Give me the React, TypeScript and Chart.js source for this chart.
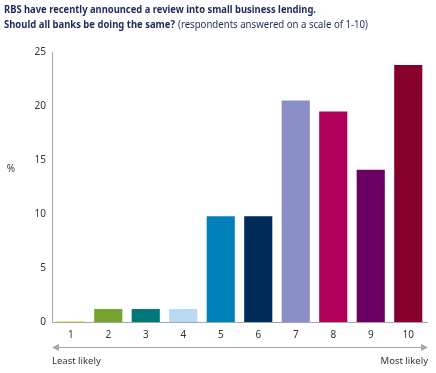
import React, { useEffect, useRef } from "react";
import { Chart, registerables } from "chart.js";

Chart.register(...registerables);

const categories = ["1", "2", "3", "4", "5", "6", "7", "8", "9", "10"];
const values = [0.1, 1.2, 1.2, 1.2, 9.8, 9.8, 20.5, 19.5, 14.1, 23.8];
const barColors = [
  "#e3e98a",
  "#76a22e",
  "#00787a",
  "#b9d9f2",
  "#0080b9",
  "#002c5a",
  "#8a8fc7",
  "#b0005a",
  "#6b0062",
  "#86002c",
];
const yTicks = [0, 5, 10, 15, 20, 25];
const titleLine1 = "RBS have recently announced a review into small business lending.";
const titleLine2Bold = "Should all banks be doing the same?";
const titleLine2Rest = "(respondents answered on a scale of 1-10)";
const yAxisLabel = "%";
const leftNote = "Least likely";
const rightNote = "Most likely";

const FONT = "'Noto Sans', 'DejaVu Sans', sans-serif";

const overlayPlugin = {
  id: "overlay",
  afterDraw(chart: any) {
    const ctx = chart.ctx;
    const area = chart.chartArea;
    ctx.save();
    // Title
    ctx.fillStyle = "#1e2a5a";
    ctx.textBaseline = "alphabetic";
    ctx.textAlign = "left";
    ctx.font = `bold 11px ${FONT}`;
    ctx.fillText(titleLine1, 4, 13, 312);
    ctx.fillText(titleLine2Bold, 4, 28, 171);
    ctx.font = `10.5px ${FONT}`;
    ctx.fillText(titleLine2Rest, 178, 28, 190);

    // Y axis label
    ctx.fillStyle = "#333333";
    ctx.font = `10px ${FONT}`;
    ctx.textAlign = "center";
    ctx.textBaseline = "middle";
    ctx.fillText(yAxisLabel, 11, 169);

    // Arrow line
    const y = 347;
    const x0 = area.left;
    const x1 = area.right + 1;
    ctx.strokeStyle = "#a6a6a6";
    ctx.lineWidth = 1;
    ctx.beginPath();
    ctx.moveTo(x0 + 4, y + 0.5);
    ctx.lineTo(x1 - 4, y + 0.5);
    ctx.stroke();
    ctx.fillStyle = "#a6a6a6";
    ctx.beginPath();
    ctx.moveTo(x0, y + 0.5);
    ctx.lineTo(x0 + 7, y - 3);
    ctx.lineTo(x0 + 7, y + 4);
    ctx.closePath();
    ctx.fill();
    ctx.beginPath();
    ctx.moveTo(x1, y + 0.5);
    ctx.lineTo(x1 - 7, y - 3);
    ctx.lineTo(x1 - 7, y + 4);
    ctx.closePath();
    ctx.fill();

    // Notes
    ctx.fillStyle = "#333333";
    ctx.font = `9.5px ${FONT}`;
    ctx.textBaseline = "middle";
    ctx.textAlign = "left";
    ctx.fillText(leftNote, x0, 361);
    ctx.textAlign = "right";
    ctx.fillText(rightNote, x1, 361);
    ctx.restore();
  },
};

export default function App() {
  const canvasRef = useRef<HTMLCanvasElement | null>(null);

  useEffect(() => {
    if (!canvasRef.current) return;
    const chart = new Chart(canvasRef.current, {
      type: "bar",
      data: {
        labels: categories,
        datasets: [
          {
            data: values,
            backgroundColor: barColors,
            borderWidth: 0,
            barPercentage: 0.75,
            categoryPercentage: 1,
          },
        ],
      },
      options: {
        animation: false,
        responsive: false,
        maintainAspectRatio: false,
        layout: { padding: { top: 52, right: 9, left: 0, bottom: 0 } },
        plugins: {
          legend: { display: false },
          tooltip: { enabled: false },
          title: { display: false },
        },
        scales: {
          x: {
            grid: { display: false, drawTicks: false },
            border: { display: true, color: "#a6a6a6", width: 1 },
            ticks: {
              color: "#333333",
              font: { family: FONT, size: 10 },
              padding: 7,
              maxRotation: 0,
            },
            afterFit(scale: any) {
              scale.height = 51;
            },
          },
          y: {
            min: 0,
            max: 25,
            afterBuildTicks(scale: any) {
              scale.ticks = yTicks.map((v) => ({ value: v }));
            },
            grid: { display: false, drawTicks: false },
            border: { display: true, color: "#a6a6a6", width: 1 },
            ticks: {
              color: "#333333",
              font: { family: FONT, size: 10 },
              padding: 6,
            },
            afterFit(scale: any) {
              scale.width = 52;
            },
          },
        },
      },
      plugins: [overlayPlugin],
    });
    return () => chart.destroy();
  }, []);

  return (
    <div style={{ position: "fixed", left: 0, top: 0, width: 436, height: 373, background: "#ffffff" }}>
      <canvas ref={canvasRef} width={436} height={373} style={{ display: "block" }} />
    </div>
  );
}
